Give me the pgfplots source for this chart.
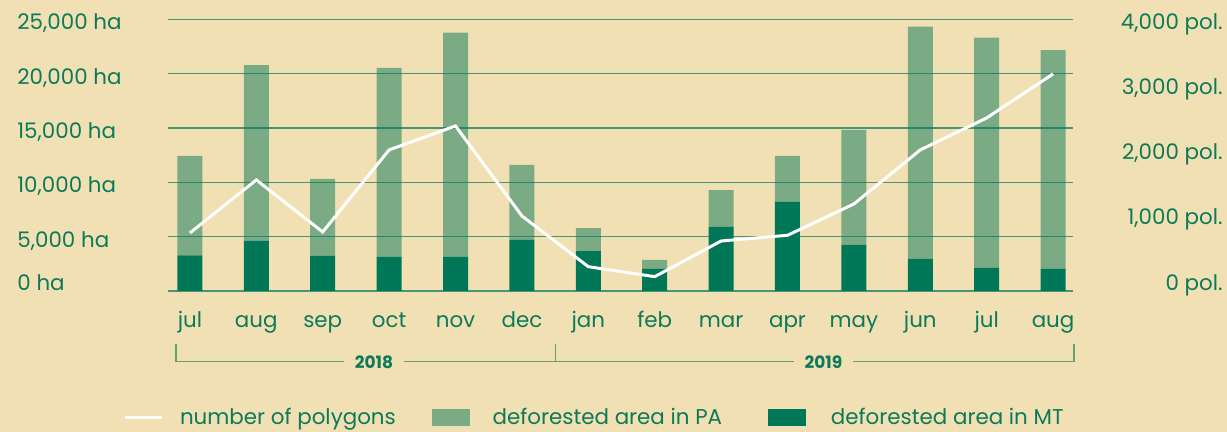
\documentclass[border=0pt]{standalone}
\usepackage{pgfplots}
\usepackage{pgfplotstable}
\pgfplotsset{compat=1.18}
\usepackage{fontspec}
\setmainfont{Poppins}
\definecolor{bgc}{RGB}{242,224,181}
\definecolor{mtc}{RGB}{0,120,88}
\definecolor{pac}{RGB}{123,171,133}
\definecolor{txc}{RGB}{12,122,88}
\definecolor{brk}{RGB}{95,162,118}
\pgfplotstableread{
i mt pa pol
0 3288 9147 854
1 4606 16184 1635
2 3224 7093 869
3 3132 17409 2077
4 3132 20634 2430
5 4698 6908 1105
6 3657 2119 358
7 2057 799 211
8 5895 3381 736
9 8198 4237 820
10 4237 10594 1281
11 2948 21370 2077
12 2119 21186 2548
13 2027 20145 3196
}\data
\newcommand{\lblfont}{\fontsize{10.7}{12}\selectfont}
\begin{document}
\begin{tikzpicture}
\fill[bgc] (0,0) rectangle (613.5pt,216pt);
\begin{axis}[
  at={(84pt,70.5pt)}, anchor=south west,
  scale only axis, width=452.5pt, height=135.85pt,
  xmin=-0.33, xmax=13.3, ymin=0, ymax=25000,
  ybar stacked, bar width=12.5pt,
  axis line style={draw=none},
  tick style={draw=none},
  scaled y ticks=false,
  ymajorgrids, grid style={mtc, opacity=0.7, line width=0.6pt},
  axis on top,
  xtick={0,...,13},
  xticklabels={jul,aug,sep,oct,nov,dec,jan,feb,mar,apr,may,jun,jul,aug},
  ytick={0,5000,10000,15000,20000,25000},
  yticklabels={\raisebox{5.2pt}{0 ha},{5,000 ha},{10,000 ha},{15,000 ha},{20,000 ha},{25,000 ha}},
  yticklabel style={anchor=base west, inner sep=0pt, xshift=-75.5pt, yshift=-5.2pt, font=\lblfont, text=txc},
  xticklabel style={anchor=base, inner sep=0pt, yshift=-18.4pt, font=\lblfont, text=txc},
]
\addplot[fill=mtc, draw=none] table[x=i,y=mt]{\data};
\addplot[fill=pac, draw=none] table[x=i,y=pa]{\data};
\end{axis}
\begin{axis}[
  at={(84pt,70.5pt)}, anchor=south west,
  scale only axis, width=452.5pt, height=135.85pt,
  xmin=-0.33, xmax=13.3, ymin=0, ymax=4000,
  hide x axis,
  axis line style={draw=none},
  tick style={draw=none},
  scaled y ticks=false,
  ytick={0,1000,2000,3000,4000},
  yticklabels={\raisebox{0.35pt}{0 pol.},\raisebox{-0.6pt}{1,000 pol.},\raisebox{-2.05pt}{2,000 pol.},\raisebox{-3.55pt}{3,000 pol.},\raisebox{-5.15pt}{4,000 pol.}},
  yticklabel pos=right,
  yticklabel style={anchor=base east, inner sep=0pt, xshift=75pt, font=\lblfont, text=txc},
  legend style={at={(-0.0497,-0.466)}, anchor=west, draw=none, fill=none, inner sep=0pt,
    font=\lblfont, text=txc, legend columns=3,
    /tikz/column 1/.style={column sep=8.5pt},
    /tikz/column 2/.style={column sep=18pt},
    /tikz/column 3/.style={column sep=11.5pt},
    /tikz/column 4/.style={column sep=23pt},
    /tikz/column 5/.style={column sep=12.5pt},
    nodes={inner sep=0pt}},
]
\addplot[white, line width=1.5pt, legend image code/.code={\draw[white, line width=1.3pt] (0pt,0pt) -- (18.5pt,0pt);}] table[x=i,y=pol]{\data};
\addlegendentry{number of polygons}
\addlegendimage{legend image code/.code={\fill[pac] (0pt,-3.9pt) rectangle (18.5pt,3.9pt);}}
\addlegendentry{deforested area in PA}
\addlegendimage{legend image code/.code={\fill[mtc] (0pt,-3.9pt) rectangle (18.5pt,3.9pt);}}
\addlegendentry{deforested area in MT}
\end{axis}
\draw[brk, line width=0.6pt] (88pt,44pt) -- (88pt,35.15pt) -- (537pt,35.15pt) -- (537pt,44pt);
\draw[brk, line width=0.6pt] (277.85pt,44pt) -- (277.85pt,35.15pt);
\node[fill=bgc, inner xsep=5.5pt, inner ysep=1pt, anchor=base, font=\bfseries\fontsize{8.5}{10}\selectfont, text=txc] at (187pt,31.5pt) {2018};
\node[fill=bgc, inner xsep=5.5pt, inner ysep=1pt, anchor=base, font=\bfseries\fontsize{8.5}{10}\selectfont, text=txc] at (411.75pt,31.5pt) {2019};
\pgfresetboundingbox
\useasboundingbox (0,0) rectangle (613.5pt,216pt);
\end{tikzpicture}
\end{document}
